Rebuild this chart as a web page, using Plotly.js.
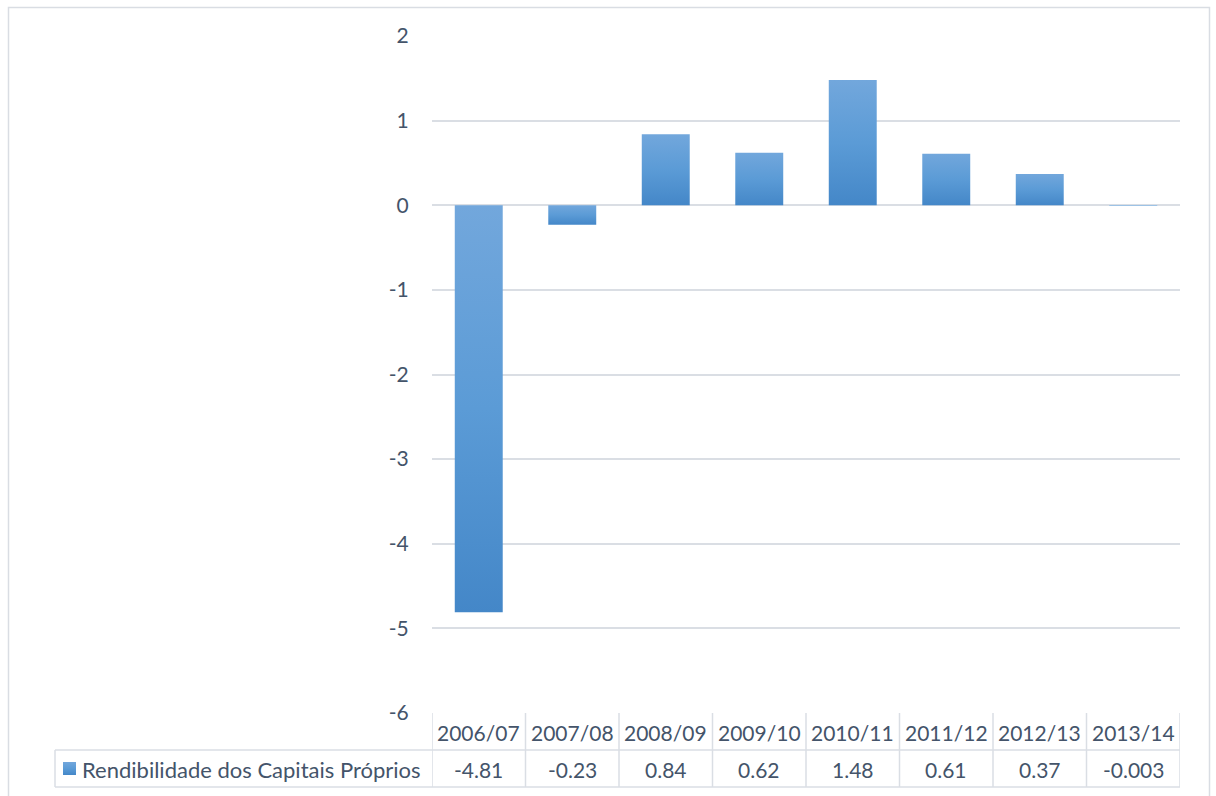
<!DOCTYPE html>
<html>
<head>
<meta charset="utf-8">
<script src="https://cdn.plot.ly/plotly-3.0.1.min.js"></script>
<style>
  html, body { margin: 0; padding: 0; background: #ffffff; }
  #chart { width: 1216px; height: 796px; }
</style>
</head>
<body>
<div id="chart"></div>
<script>
// ---- data ----
const categories = ["2006/07", "2007/08", "2008/09", "2009/10", "2010/11", "2011/12", "2012/13", "2013/14"];
const values = [-4.81, -0.23, 0.84, 0.62, 1.48, 0.61, 0.37, -0.003];
const valueLabels = ["-4.81", "-0.23", "0.84", "0.62", "1.48", "0.61", "0.37", "-0.003"];
const seriesName = "Rendibilidade dos Capitais Próprios";
const yTicks = [-6, -5, -4, -3, -2, -1, 0, 1, 2];

// ---- layout geometry (pixels of the 1216x796 page) ----
const W = 1216, H = 796;
const L = 432, R = 1180, T = 36, B = 713;
const pw = R - L, ph = B - T;
const px = x => (x - L) / pw;          // page x -> paper x
const py = y => (B - y) / ph;          // page y -> paper y

const textColor = "#44546a";
const gridColor = "#dadee4";
const fontFamily = "Lato, 'Open Sans', sans-serif";
const fsize = 21;

const headerTop = 713, rowMid = 750, tableBottom = 787, keyCellLeft = 55;

const shapes = [];
// outer chart border
shapes.push({type: "rect", xref: "paper", yref: "paper",
  x0: px(8.5), x1: px(1209.5), y0: py(7.5), y1: py(820),
  line: {color: "#d9dde3", width: 1.5}, fillcolor: "rgba(0,0,0,0)"});
// table horizontal lines
[rowMid, tableBottom].forEach(y => shapes.push({type: "line", xref: "paper", yref: "paper",
  x0: px(keyCellLeft), x1: 1, y0: py(y), y1: py(y), line: {color: gridColor, width: 1.5}}));
// table vertical lines at category boundaries
for (let i = 0; i <= categories.length; i++) {
  shapes.push({type: "line", xref: "x", yref: "paper",
    x0: i - 0.5, x1: i - 0.5, y0: py(headerTop), y1: py(tableBottom),
    line: {color: gridColor, width: 1.5}});
}
// left edge of the series-name cell
shapes.push({type: "line", xref: "paper", yref: "paper",
  x0: px(keyCellLeft), x1: px(keyCellLeft), y0: py(rowMid), y1: py(tableBottom),
  line: {color: gridColor, width: 1.5}});
// legend key square
shapes.push({type: "rect", xref: "paper", yref: "paper",
  x0: px(63), x1: px(76), y0: py(775), y1: py(762),
  line: {width: 0}, fillcolor: "#5b9bd5"});

const annotations = [];
categories.forEach((c, i) => {
  annotations.push({x: c, xref: "x", yref: "paper", y: py((headerTop + rowMid) / 2 + 1),
    text: c, showarrow: false, xanchor: "center", yanchor: "middle",
    font: {family: fontFamily, size: fsize, color: textColor}});
  annotations.push({x: c, xref: "x", yref: "paper", y: py((rowMid + tableBottom) / 2 + 1),
    text: valueLabels[i], showarrow: false, xanchor: "center", yanchor: "middle",
    font: {family: fontFamily, size: fsize, color: textColor}});
});
annotations.push({x: px(80), xref: "paper", yref: "paper", y: py((rowMid + tableBottom) / 2 + 1),
  text: seriesName, showarrow: false, xanchor: "left", yanchor: "middle",
  font: {family: fontFamily, size: 22, color: textColor}});

const trace = {
  type: "bar",
  x: categories,
  y: values,
  name: seriesName,
  marker: {color: "#5b9bd5", line: {width: 0}},
  hoverinfo: "x+y"
};

const layout = {
  width: W, height: H,
  margin: {l: L, r: W - R, t: T, b: H - B, pad: 0},
  paper_bgcolor: "#ffffff",
  plot_bgcolor: "#ffffff",
  showlegend: false,
  bargap: 0.487,
  font: {family: fontFamily, size: fsize, color: textColor},
  xaxis: {
    type: "category",
    range: [-0.5, categories.length - 0.5],
    showticklabels: false, showgrid: false, zeroline: false, showline: false, ticks: ""
  },
  yaxis: {
    range: [-6, 2],
    tickvals: yTicks,
    ticktext: yTicks.map(String),
    showgrid: true, gridcolor: gridColor, gridwidth: 1.5,
    zeroline: true, zerolinecolor: gridColor, zerolinewidth: 1.5,
    showline: false,
    ticks: "outside", ticklen: 18, tickcolor: "rgba(0,0,0,0)",
    tickfont: {family: fontFamily, size: fsize, color: textColor}
  },
  shapes: shapes,
  annotations: annotations
};

Plotly.newPlot("chart", [trace], layout, {displayModeBar: false, responsive: false}).then(gd => {
  const NS = "http://www.w3.org/2000/svg";
  const svg = gd.querySelector("svg.main-svg");
  let defs = svg.querySelector("defs");
  if (!defs) { defs = document.createElementNS(NS, "defs"); svg.insertBefore(defs, svg.firstChild); }
  const grad = document.createElementNS(NS, "linearGradient");
  grad.setAttribute("id", "barGrad");
  grad.setAttribute("x1", "0"); grad.setAttribute("y1", "0");
  grad.setAttribute("x2", "0"); grad.setAttribute("y2", "1");
  [["0", "#72a7dc"], ["0.5", "#5b9bd6"], ["1", "#4487c8"]].forEach(([o, c]) => {
    const s = document.createElementNS(NS, "stop");
    s.setAttribute("offset", o); s.setAttribute("stop-color", c);
    grad.appendChild(s);
  });
  defs.appendChild(grad);
  gd.querySelectorAll(".barlayer .point path").forEach(p => {
    const bb = p.getBBox();
    // very thin bars render as a flat light-blue line, like the reference
    p.style.fill = bb.height < 2 ? "#9dc3e6" : "url(#barGrad)";
  });
  gd.querySelectorAll(".layer-above path, .shapelayer path").forEach(p => {
    if (p.style.fill && p.style.fill.indexOf("91, 155, 213") >= 0) p.style.fill = "url(#barGrad)";
  });
});
</script>
</body>
</html>
